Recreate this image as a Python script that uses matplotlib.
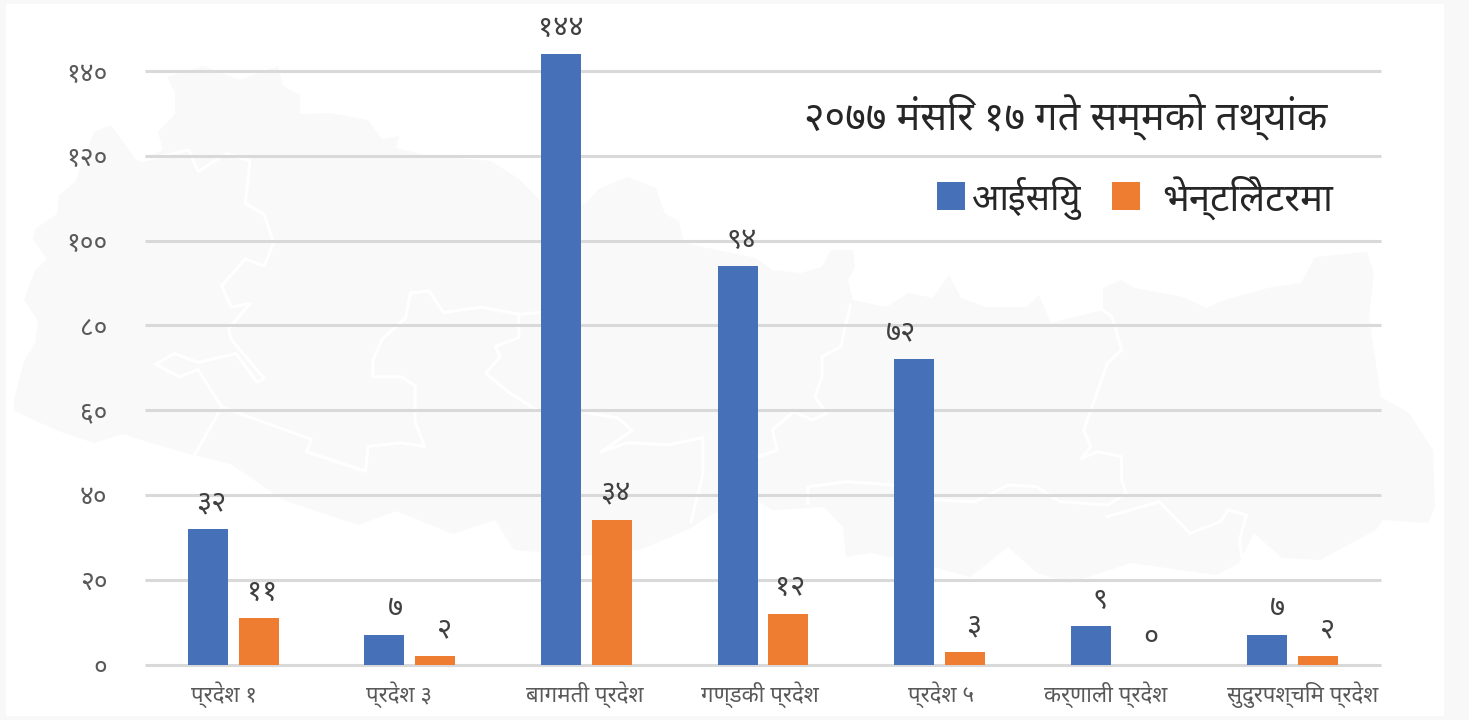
import matplotlib
matplotlib.use('Agg')
import matplotlib.pyplot as plt
import numpy as np
from matplotlib.patches import Polygon, Rectangle
from matplotlib.transforms import ScaledTranslation

plt.rcParams['font.family'] = ['Noto Sans', 'DejaVu Sans']

categories = ['प्रदेश १', 'प्रदेश ३', 'बागमती प्रदेश', 'गण्डकी प्रदेश', 'प्रदेश ५', 'कर्णाली प्रदेश', 'सुदुरपश्चिम प्रदेश']
icu = [32, 7, 144, 94, 72, 9, 7]
ventilator = [11, 2, 34, 12, 3, 0, 2]
icu_labels = ['३२', '७', '१४४', '९४', '७२', '९', '७']
vent_labels = ['११', '२', '३४', '१२', '३', '०', '२']
yticks = [0, 20, 40, 60, 80, 100, 120, 140]
ytick_labels = ['०', '२०', '४०', '६०', '८०', '१००', '१२०', '१४०']
title = '२०७७ मंसिर १७ गते सम्मको तथ्यांक'
legend_names = ['आईसियु', 'भेन्टिलेटरमा']

W, H = 1469, 720
fig = plt.figure(figsize=(W/100, H/100), dpi=100, facecolor='#f8f8f8')

# white card behind everything, with the pale map on it (pixel coordinates)
bg = fig.add_axes([0, 0, 1, 1], zorder=0)
bg.set_xlim(0, W)
bg.set_ylim(H, 0)
bg.axis('off')
bg.add_patch(Rectangle((6, 4), 1438, 712, fc='white', ec='none'))
nepal = [(14, 400), (24, 361), (35, 343), (38, 321), (24, 300), (35, 271), (47, 259), (33, 239), (35, 229), (57, 214),
         (59, 195), (75, 182), (94, 132), (111, 125), (137, 161), (163, 150), (158, 132), (175, 114), (175, 93),
         (167, 77), (203, 66), (240, 80), (278, 66), (283, 86), (300, 95), (300, 114), (330, 113), (368, 120),
         (382, 139), (399, 136), (396, 148), (425, 155), (491, 161), (519, 179), (540, 200), (585, 204), (599, 189),
         (627, 177), (656, 188), (665, 214), (679, 221), (684, 243), (717, 250), (756, 258), (772, 270), (801, 273),
         (822, 267), (831, 250), (853, 250), (855, 267), (848, 280), (853, 300), (886, 307), (909, 293), (933, 298),
         (949, 275), (961, 298), (985, 307), (1027, 307), (1039, 295), (1051, 323), (1103, 310), (1103, 288),
         (1121, 280), (1135, 288), (1183, 297), (1206, 308), (1225, 300), (1272, 287), (1301, 283), (1315, 257),
         (1367, 252), (1374, 273), (1369, 317), (1381, 397), (1409, 413), (1433, 450), (1435, 507), (1428, 523),
         (1383, 520), (1376, 530), (1320, 560), (1282, 558), (1254, 533), (1239, 563), (1216, 575), (1131, 563),
         (1070, 583), (1037, 573), (1008, 547), (970, 577), (933, 567), (871, 553), (846, 557), (843, 527),
         (824, 507), (772, 510), (756, 500), (712, 514), (691, 528), (640, 550), (581, 556), (514, 550), (495, 520),
         (453, 534), (396, 511), (358, 525), (283, 500), (231, 464), (189, 454), (151, 443), (123, 434), (94, 443),
         (61, 432), (14, 411)]
bg.add_patch(Polygon(nepal, closed=True, fc='#f9f9f9', ec='none'))

def left(pts):
    return [(a/2.12, b/2.8) for a, b in pts]

def right(pts):
    return [(730+a/2.12, 200+b/3) for a, b in pts]

borders = [
    left([(300, 450), (400, 420), (420, 480), (480, 430), (530, 450), (520, 570), (560, 600), (580, 680), (560, 745),
          (520, 725), (470, 800), (490, 860), (530, 850), (485, 920), (490, 950), (560, 1060), (545, 1070), (500, 990),
          (420, 1015), (370, 990), (330, 1020), (380, 1055), (420, 1035), (470, 1140), (660, 1230), (650, 1265),
          (775, 1320), (780, 1250), (850, 1240), (900, 1250), (880, 1180), (880, 1080), (850, 1055), (790, 1055),
          (790, 1010), (810, 950), (860, 890), (870, 820), (910, 815), (940, 875), (1020, 860), (1100, 880),
          (1100, 945), (1050, 970), (1060, 1000), (1030, 1045), (1080, 1100), (1140, 1150)]),
    left([(470, 1140), (410, 1280)]),
    left([(1100, 880), (1145, 875)]),
    left([(1240, 1155), (1310, 1170), (1340, 1205), (1275, 1265), (1330, 1240), (1420, 1245), (1490, 1225),
          (1490, 1330), (1465, 1460)]),
    right([(255, 315), (235, 440), (195, 470), (195, 530), (180, 590), (205, 640), (175, 660), (135, 635), (90, 690),
           (100, 750), (60, 770)]),
    right([(165, 910), (165, 860), (250, 845), (345, 855)]),
    right([(435, 900), (520, 905), (590, 855), (650, 860), (700, 905), (800, 915), (840, 880), (830, 840), (830, 770),
           (780, 755), (745, 775), (765, 740), (750, 690), (780, 570), (800, 490), (830, 450), (810, 350), (785, 325)]),
    right([(800, 950), (910, 905), (975, 1000), (1040, 965), (1055, 930), (1095, 945), (1080, 1020), (1085, 1070)]),
]
for b in borders:
    xs, ys = zip(*b)
    bg.plot(xs, ys, color='white', lw=2.2, solid_joinstyle='round')

ax = fig.add_axes([145/W, 1-664.5/H, (1381-145)/W, (664.5-71)/H], zorder=1)
ax.patch.set_alpha(0)
ax.set_xlim(0, 7)
ax.set_ylim(0, 140)

x = np.arange(7) + 0.5
w = 0.226
off = 0.144
ax.bar(x-off, icu, w, color='#4670b8', zorder=3, clip_on=False)
ax.bar(x+off, ventilator, w, color='#ee7d31', zorder=3)

# the labels sit off centre in the original, nudges are in pixels
icu_dx = [3, 11, 0, 4, -13, 9, 10]
vent_dx = [3, 9, 3, 2, 9, 9, 9]
for i in range(7):
    ax.annotate(icu_labels[i], (x[i]-off, icu[i]), xytext=(icu_dx[i]*0.72, 26*0.72), textcoords='offset points',
                ha='center', va='center', fontsize=21, color='#404040', annotation_clip=False)
    ax.annotate(vent_labels[i], (x[i]+off, ventilator[i]), xytext=(vent_dx[i]*0.72, 26*0.72), textcoords='offset points',
                ha='center', va='center', fontsize=21, color='#404040', annotation_clip=False)

ax.set_yticks(yticks)
ax.set_yticklabels(ytick_labels, fontsize=19, color='#595959')
ax.set_xticks(x)
ax.set_xticklabels(categories, fontsize=16, color='#595959')
ax.tick_params(axis='both', length=0)
ax.tick_params(axis='x', pad=12)
ax.tick_params(axis='y', pad=27)
label_dx = [-9, -11, -2, -3, 1, -10, 10]
for lab, dx in zip(ax.get_xticklabels(), label_dx):
    lab.set_transform(lab.get_transform() + ScaledTranslation(dx/100, 0, fig.dpi_scale_trans))
ax.grid(axis='y', color='#d9d9d9', lw=2.2, zorder=1)
for g in ax.get_ygridlines():
    g.set_clip_on(False)
    g.set_solid_capstyle('butt')
ax.set_axisbelow(True)
for s in ax.spines.values():
    s.set_visible(False)

top = fig.add_axes([0, 0, 1, 1], zorder=2)
top.set_xlim(0, W)
top.set_ylim(H, 0)
top.axis('off')
top.text(1327, 117, title, ha='right', va='center', fontsize=28.5, color='#262626')
top.add_patch(Rectangle((937, 182), 28, 28, fc='#4670b8', ec='none'))
top.add_patch(Rectangle((1112, 182), 28, 28, fc='#ee7d31', ec='none'))
top.text(971, 198, legend_names[0], ha='left', va='center', fontsize=26, color='#262626')
top.text(1162, 198, legend_names[1], ha='left', va='center', fontsize=27.5, color='#262626')

fig.savefig('out.png', dpi=100, facecolor=fig.get_facecolor())
